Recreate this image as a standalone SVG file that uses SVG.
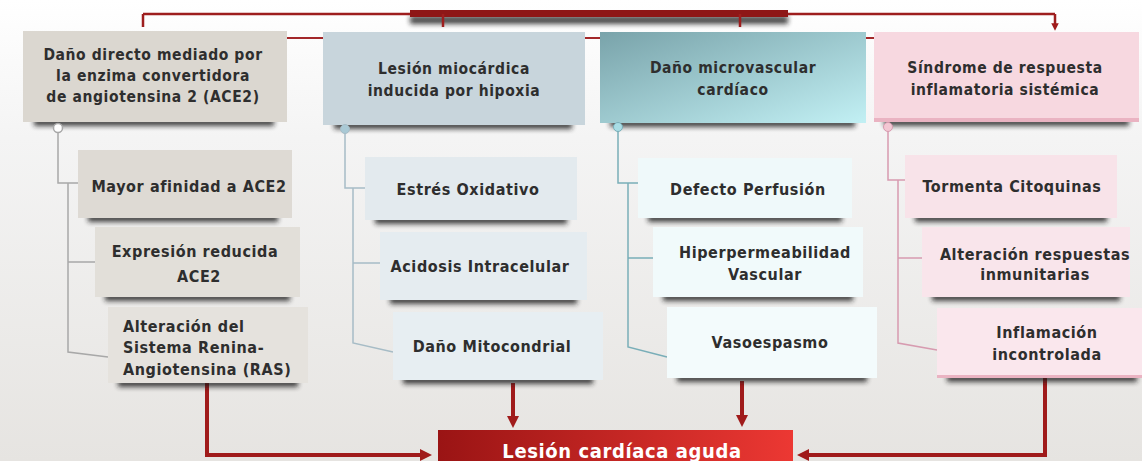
<svg xmlns="http://www.w3.org/2000/svg" width="1142" height="461" viewBox="0 0 1142 461">
<defs>
<style>
.t{font-family:'DejaVu Sans Condensed','DejaVu Sans','Liberation Sans',sans-serif;font-weight:bold;font-size:16px;letter-spacing:0.6px;fill:#2e2e2e;text-anchor:middle}
.h{font-size:15.5px}
.l{text-anchor:start}
.w{fill:#ffffff;font-size:20px}
.sh{fill:#1e1e1e;opacity:.8;filter:url(#blur)}
.red{fill:none;stroke:#a01b1b;stroke-width:4}
.thin{fill:none;stroke:#9e1e1e;stroke-width:2.5}
.tr{fill:none;stroke-width:1.5}
</style>
<linearGradient id="bg" x1="0" y1="0" x2="0" y2="1"><stop offset="0" stop-color="#ffffff"/><stop offset="0.3" stop-color="#f4f4f4"/><stop offset="1" stop-color="#e6e4e1"/></linearGradient>
<linearGradient id="teal" x1="0" y1="0" x2="1" y2="1"><stop offset="0" stop-color="#79a3aa"/><stop offset="1" stop-color="#c2f0f4"/></linearGradient>
<linearGradient id="redg" x1="0" y1="0" x2="1" y2="0"><stop offset="0" stop-color="#9a1414"/><stop offset="1" stop-color="#ec3833"/></linearGradient>
<filter id="blur" x="-20%" y="-100%" width="140%" height="300%"><feGaussianBlur stdDeviation="2.5"/></filter>
<marker id="ah" viewBox="0 0 10 10" refX="5" refY="5" markerWidth="3" markerHeight="3" orient="auto" markerUnits="strokeWidth"><path d="M0,0 L10,5 L0,10 z" fill="#a01b1b"/></marker>
</defs>
<rect width="1142" height="461" fill="url(#bg)"/>

<g id="connectors">
<rect x="410" y="16" width="378" height="8" class="sh"/>
<path class="thin" d="M143,14 H1055"/>
<rect x="410" y="10" width="378" height="7" fill="#8e1717"/>
<path class="thin" d="M143,14 V27 M443,14 V27 M740,14 V27 M1055,14 V27" marker-end="url(#ah)"/>
<path fill="none" stroke="#a3282a" stroke-width="2" d="M24,38 H1139"/>
<path class="tr" stroke="#a8a8a8" d="M58,133 V183 H78 M68,183 V352 L108,357 M68,262 H95"/>
<path class="tr" stroke="#a7bcc6" d="M345,133 V188 H365 M353,188 V343 L393,352 M353,263 H380"/>
<path class="tr" stroke="#79aeb8" d="M618,131 V183 H638 M628,183 V347 L667,357 M628,258 H653"/>
<path class="tr" stroke="#d79bb0" d="M888,131 V180 H905 M898,180 V343 L937,350 M898,258 H922"/>
<path class="red" d="M207,383 V455 H426" marker-end="url(#ah)"/>
<path class="red" d="M1045,378 V455 H803" marker-end="url(#ah)"/>
<path class="red" d="M513,383 V422" marker-end="url(#ah)"/>
<path class="red" d="M742,381 V421" marker-end="url(#ah)"/>
</g>

<g id="h1">
<rect x="34" y="118" width="240" height="8" class="sh"/>
<rect x="23" y="31" width="264" height="91" fill="#dbd7d0"/>
<circle cx="58" cy="128" r="4.5" fill="#ffffff" stroke="#a8a8a8" stroke-width="1.5"/>
<text class="t h" x="153" y="60">Daño directo mediado por</text>
<text class="t h" x="153" y="81">la enzima convertidora</text>
<text class="t h" x="153" y="102">de angiotensina 2 (ACE2)</text>
</g>
<g id="h2">
<rect x="334" y="121" width="238" height="8" class="sh"/>
<rect x="323" y="32" width="262" height="93" fill="#c8d5dc"/>
<circle cx="345" cy="129" r="4.5" fill="#a9c9d5" stroke="#a7bcc6" stroke-width="1"/>
<text class="t h" x="454" y="74">Lesión miocárdica</text>
<text class="t h" x="454" y="96">inducida por hipoxia</text>
</g>
<g id="h3">
<rect x="610" y="119" width="245" height="8" class="sh"/>
<rect x="600" y="32" width="266" height="91" fill="url(#teal)"/>
<circle cx="618" cy="127" r="4.5" fill="#a9dde5" stroke="#79aeb8" stroke-width="1"/>
<text class="t h" x="733" y="73">Daño microvascular</text>
<text class="t h" x="733" y="95">cardíaco</text>
</g>
<g id="h4">
<rect x="884" y="118" width="245" height="8" class="sh"/>
<rect x="874" y="32" width="265" height="90" fill="#f7d8e0"/>
<rect x="874" y="118" width="265" height="4" fill="#eab3c2"/>
<circle cx="888" cy="127" r="4.5" fill="#f3c7d3" stroke="#d79bb0" stroke-width="1"/>
<text class="t h" x="1005" y="73">Síndrome de respuesta</text>
<text class="t h" x="1005" y="95">inflamatoria sistémica</text>
</g>

<g id="c1a">
<rect x="88" y="214" width="190" height="8" class="sh"/>
<rect x="78" y="150" width="214" height="68" fill="#dedad4"/>
<text class="t" x="189" y="192">Mayor afinidad a ACE2</text>
</g>
<g id="c1b">
<rect x="105" y="293" width="185" height="8" class="sh"/>
<rect x="95" y="227" width="205" height="70" fill="#e2dfd9"/>
<text class="t" x="195" y="257">Expresión reducida</text>
<text class="t" x="199" y="282">ACE2</text>
</g>
<g id="c1c">
<rect x="118" y="379" width="180" height="8" class="sh"/>
<rect x="108" y="307" width="200" height="76" fill="#e5e2dd"/>
<text class="t l" x="123" y="332">Alteración del</text>
<text class="t l" x="123" y="353">Sistema Renina-</text>
<text class="t l" x="123" y="375">Angiotensina (RAS)</text>
</g>

<g id="c2a">
<rect x="375" y="216" width="192" height="8" class="sh"/>
<rect x="365" y="157" width="212" height="63" fill="#e3eaee"/>
<text class="t" x="468" y="195">Estrés Oxidativo</text>
</g>
<g id="c2b">
<rect x="390" y="296" width="187" height="8" class="sh"/>
<rect x="380" y="232" width="207" height="68" fill="#e5ecf0"/>
<text class="t" x="480" y="272">Acidosis Intracelular</text>
</g>
<g id="c2c">
<rect x="403" y="376" width="190" height="8" class="sh"/>
<rect x="393" y="312" width="210" height="68" fill="#e7eef2"/>
<text class="t" x="492" y="352">Daño Mitocondrial</text>
</g>

<g id="c3a">
<rect x="648" y="214" width="194" height="8" class="sh"/>
<rect x="638" y="158" width="214" height="60" fill="#eff9fa"/>
<text class="t" x="748" y="195">Defecto Perfusión</text>
</g>
<g id="c3b">
<rect x="663" y="293" width="190" height="8" class="sh"/>
<rect x="653" y="227" width="210" height="70" fill="#f1fafb"/>
<text class="t" x="765" y="258">Hiperpermeabilidad</text>
<text class="t" x="765" y="280">Vascular</text>
</g>
<g id="c3c">
<rect x="677" y="374" width="190" height="8" class="sh"/>
<rect x="667" y="307" width="210" height="71" fill="#f3fbfc"/>
<text class="t" x="770" y="348">Vasoespasmo</text>
</g>

<g id="c4a">
<rect x="915" y="214" width="192" height="8" class="sh"/>
<rect x="905" y="155" width="212" height="63" fill="#f8e3e9"/>
<text class="t" x="1012" y="192">Tormenta Citoquinas</text>
</g>
<g id="c4b">
<rect x="932" y="293" width="188" height="8" class="sh"/>
<rect x="922" y="227" width="208" height="70" fill="#f9e5eb"/>
<text class="t" x="1035" y="260">Alteración respuestas</text>
<text class="t" x="1035" y="280">inmunitarias</text>
</g>
<g id="c4c">
<rect x="947" y="374" width="190" height="8" class="sh"/>
<rect x="937" y="308" width="205" height="70" fill="#fae7ed"/>
<rect x="937" y="375" width="205" height="3" fill="#eab3c2"/>
<text class="t" x="1047" y="338">Inflamación</text>
<text class="t" x="1047" y="360">incontrolada</text>
</g>

<g id="lesion">
<rect x="438" y="430" width="355" height="40" fill="url(#redg)"/>
<text class="t w" x="622" y="458">Lesión cardíaca aguda</text>
</g>
</svg>
